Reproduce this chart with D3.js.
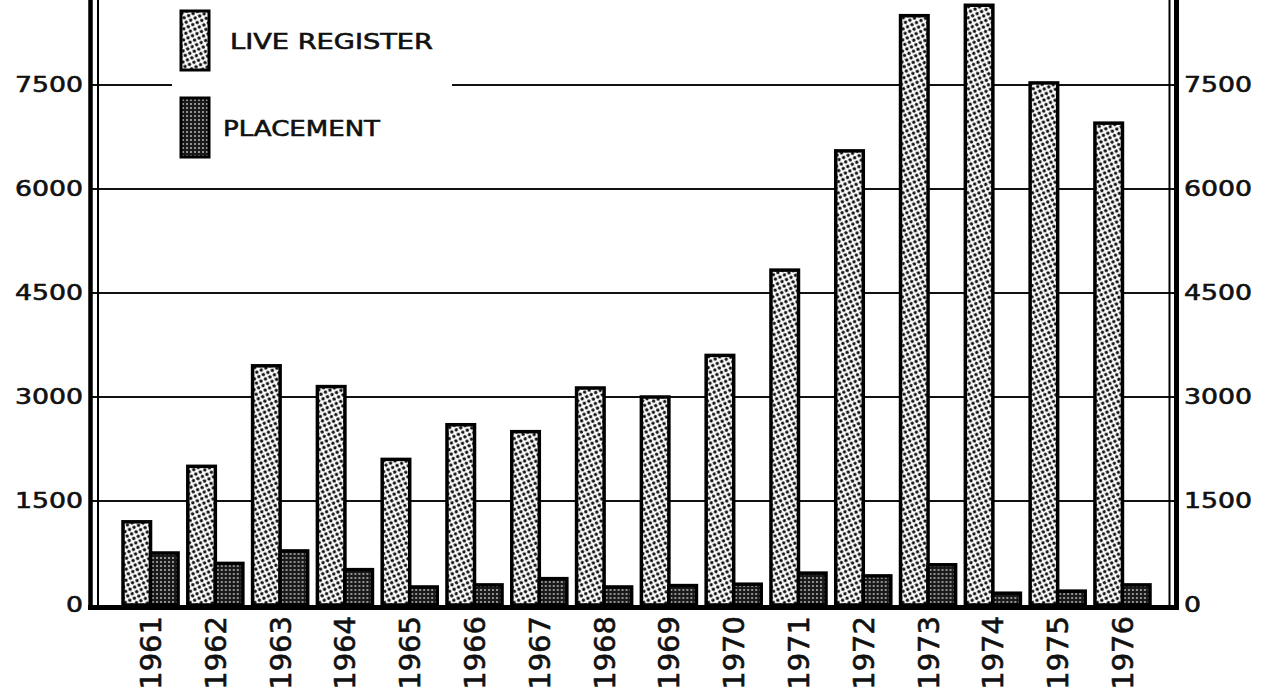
<!DOCTYPE html>
<html>
<head>
<meta charset="utf-8">
<script src="https://cdn.jsdelivr.net/npm/d3@7"></script>
<style>
  body { margin: 0; background: #fff; }
  svg { display: block; }
  text { stroke: #111; stroke-width: 0.6px; }
</style>
</head>
<body>
<script>
const width = 1271;
const height = 700;

// data
const years = ["1961", "1962", "1963", "1964", "1965", "1966", "1967", "1968",
    "1969", "1970", "1971", "1972", "1973", "1974", "1975", "1976"];
const liveRegister = [1200, 2000, 3450, 3150, 2100, 2600, 2500, 3130,
    3000, 3600, 4830, 6550, 8500, 8650, 7530, 6950];
const placement = [750, 600, 780, 510, 260, 290, 380, 260,
    280, 300, 460, 420, 580, 170, 200, 290];
const yTicks = [0, 1500, 3000, 4500, 6000, 7500];
const seriesKeys = ["live", "place"];
const legendLabels = ["LIVE REGISTER", "PLACEMENT"];

const font = "DejaVu Sans";

let svg = d3.select("body").append("svg")
    .attr("width", width)
    .attr("height", height);

svg.append("rect").attr("width", width).attr("height", height).attr("fill", "#fff");

// fill patterns: light dotted for live register, dark speckled for placement
let defs = svg.append("defs");
let p1 = defs.append("pattern")
    .attr("id", "patLive")
    .attr("patternUnits", "userSpaceOnUse")
    .attr("width", 7).attr("height", 7)
    .attr("patternTransform", "rotate(20)");
p1.append("rect").attr("width", 7).attr("height", 7).attr("fill", "#fff");
p1.append("circle").attr("cx", 1.75).attr("cy", 1.75).attr("r", 1.7).attr("fill", "#111");
p1.append("circle").attr("cx", 5.25).attr("cy", 5.25).attr("r", 1.7).attr("fill", "#111");

let p2 = defs.append("pattern")
    .attr("id", "patPlace")
    .attr("patternUnits", "userSpaceOnUse")
    .attr("width", 4).attr("height", 4);
p2.append("rect").attr("width", 4).attr("height", 4).attr("fill", "#1a1a1a");
p2.append("circle").attr("cx", 2).attr("cy", 2).attr("r", 0.9).attr("fill", "#c8c8c8");

const fills = {live: "url(#patLive)", place: "url(#patPlace)"};

// scales
let x0 = d3.scaleBand()
    .domain(years)
    .range([123, 1150])
    .paddingInner(0.15)
    .paddingOuter(0);

let x1 = d3.scaleBand()
    .domain(seriesKeys)
    .range([0, x0.bandwidth()]);

let y = d3.scaleLinear()
    .domain([0, 8726])
    .range([605, 0]);

// grid lines
svg.append("g")
    .selectAll("line")
    .data(yTicks.filter(d => d > 0))
    .enter()
    .append("line")
    .attr("x1", 92)
    .attr("x2", 1175)
    .attr("y1", d => y(d))
    .attr("y2", d => y(d))
    .attr("stroke", "#111")
    .attr("stroke-width", 1.8);

// legend (blanks out the top grid line behind it)
let legend = svg.append("g");
legend.append("rect")
    .attr("x", 172).attr("y", 0)
    .attr("width", 280).attr("height", 165)
    .attr("fill", "#fff");

let legendItems = legend.selectAll("g.item")
    .data(seriesKeys)
    .enter()
    .append("g")
    .attr("class", "item")
    .attr("transform", (d, i) => "translate(181," + (11 + i * 87) + ")");

legendItems.append("rect")
    .attr("width", 28)
    .attr("height", 59)
    .attr("fill", d => fills[d])
    .attr("stroke", "#000")
    .attr("stroke-width", 3);

legendItems.append("text")
    .attr("x", (d, i) => i === 0 ? 49 : 42)
    .attr("y", 30)
    .attr("dy", "0.36em")
    .attr("font-family", font)
    .attr("font-size", 21)
    .attr("fill", "#111")
    .attr("textLength", (d, i) => i === 0 ? 203 : 157)
    .attr("lengthAdjust", "spacingAndGlyphs")
    .text((d, i) => legendLabels[i]);

// bars
let groups = svg.append("g")
    .selectAll("g")
    .data(years)
    .enter()
    .append("g")
    .attr("transform", d => "translate(" + x0(d) + ",0)");

groups.selectAll("rect")
    .data((d, i) => [
        {key: "live", value: liveRegister[i]},
        {key: "place", value: placement[i]}
    ])
    .enter()
    .append("rect")
    .attr("x", d => x1(d.key))
    .attr("y", d => y(d.value))
    .attr("width", x1.bandwidth())
    .attr("height", d => y(0) - y(d.value))
    .attr("fill", d => fills[d.key])
    .attr("stroke", "#000")
    .attr("stroke-width", 3.5);

// double axis frames and base line
let frame = svg.append("g").attr("stroke", "#000");
frame.append("line").attr("x1", 90.5).attr("x2", 90.5).attr("y1", 0).attr("y2", 610).attr("stroke-width", 4.5);
frame.append("line").attr("x1", 98).attr("x2", 98).attr("y1", 0).attr("y2", 608).attr("stroke-width", 2);
frame.append("line").attr("x1", 1169.5).attr("x2", 1169.5).attr("y1", 0).attr("y2", 608).attr("stroke-width", 2);
frame.append("line").attr("x1", 1176.5).attr("x2", 1176.5).attr("y1", 0).attr("y2", 610).attr("stroke-width", 5);
frame.append("line").attr("x1", 88).attr("x2", 1179).attr("y1", 607.5).attr("y2", 607.5).attr("stroke-width", 5);

// y axes, both sides
function styleAxis(g) {
    g.select(".domain").remove();
    g.attr("font-family", font).attr("font-size", 21);
    g.selectAll("text")
        .attr("fill", "#111")
        .attr("textLength", d => String(d).length === 1 ? 17 : 68)
        .attr("lengthAdjust", "spacingAndGlyphs");
}

svg.append("g")
    .attr("transform", "translate(85,0)")
    .call(d3.axisLeft(y).tickValues(yTicks).tickFormat(d3.format("d")).tickSize(0).tickPadding(2))
    .call(styleAxis);

svg.append("g")
    .attr("transform", "translate(1184,0)")
    .call(d3.axisRight(y).tickValues(yTicks).tickFormat(d3.format("d")).tickSize(0).tickPadding(0))
    .call(styleAxis);

// x axis, rotated year labels
svg.append("g")
    .attr("transform", "translate(0,616)")
    .call(d3.axisBottom(x0).tickSize(0))
    .call(g => g.select(".domain").remove())
    .attr("font-family", font)
    .attr("font-size", 29)
    .selectAll("text")
    .attr("fill", "#111")
    .attr("transform", "rotate(-90)")
    .attr("x", 0)
    .attr("y", 0)
    .attr("dy", "0.36em")
    .attr("text-anchor", "end");
</script>
</body>
</html>
